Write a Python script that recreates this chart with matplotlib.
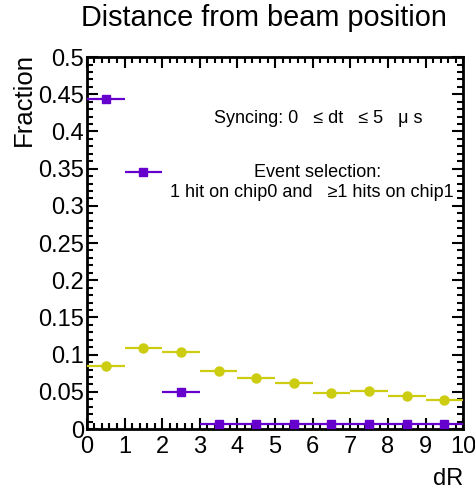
import matplotlib
matplotlib.use("Agg")
import matplotlib.pyplot as plt
from matplotlib.ticker import MultipleLocator, FixedLocator
import numpy as np

plt.rcParams['font.family'] = ['Liberation Sans', 'DejaVu Sans']

# Histogram binning (dR)
bin_edges = [0, 1, 2, 3, 4, 5, 6, 7, 8, 9, 10]

# Fraction of events per bin
frac_single = [0.444, 0.346, 0.050, 0.007, 0.007, 0.007, 0.007, 0.007, 0.007, 0.007]
frac_multi = [0.085, 0.109, 0.103, 0.078, 0.068, 0.062, 0.048, 0.051, 0.045, 0.039]

purple = "#6600cc"
yellow = "#cccc10"

x_ticks = [0, 1, 2, 3, 4, 5, 6, 7, 8, 9, 10]
y_ticks = [0, 0.05, 0.1, 0.15, 0.2, 0.25, 0.3, 0.35, 0.4, 0.45, 0.5]
y_labels = ["0", "0.05", "0.1", "0.15", "0.2", "0.25", "0.3", "0.35", "0.4", "0.45", "0.5"]

fig = plt.figure(figsize=(4.75, 4.92), dpi=100)
ax = fig.add_axes([0.183, 0.128, 0.792, 0.756])

edges = np.array(bin_edges, dtype=float)
centers = 0.5 * (edges[:-1] + edges[1:])
half = 0.5 * (edges[1:] - edges[:-1])

ax.errorbar(centers, frac_multi, xerr=half, fmt='o', color=yellow, ms=6.5,
            elinewidth=1.6, capsize=0, zorder=3, clip_on=False)
ax.errorbar(centers, frac_single, xerr=half, fmt='s', color=purple, ms=6,
            elinewidth=1.6, capsize=0, zorder=4, clip_on=False)

ax.set_xlim(0, 10)
ax.set_ylim(0, 0.5)
ax.xaxis.set_major_locator(FixedLocator(x_ticks))
ax.xaxis.set_minor_locator(MultipleLocator(0.2))
ax.yaxis.set_major_locator(FixedLocator(y_ticks))
ax.yaxis.set_minor_locator(MultipleLocator(0.01))
ax.set_yticklabels(y_labels)

ax.tick_params(which='both', direction='in', top=True, right=True,
               labelsize=17, width=1.5, color='black')
ax.tick_params(which='major', length=8)
ax.tick_params(axis='y', which='major', pad=2)
ax.tick_params(axis='x', which='major', pad=5)
ax.tick_params(which='minor', length=4)
for s in ax.spines.values():
    s.set_linewidth(2)

ax.set_ylabel("Fraction", fontsize=18.5, loc='top')
ax.yaxis.set_label_coords(-0.135, 1.01)
ax.set_xlabel("dR", fontsize=17, loc='right', labelpad=7)

fig.text(0.556, 0.963, "Distance from beam position", fontsize=20.8,
         ha='center', va='center')

ax.text(6.14, 0.418, "Syncing: 0   \u2264 dt   \u2264 5   \u03bc s", fontsize=13,
        ha='center', va='center')
ax.text(6.14, 0.345, "Event selection:", fontsize=13, ha='center', va='center')
ax.text(5.98, 0.3185, "1 hit on chip0 and   \u22651 hits on chip1", fontsize=13,
        ha='center', va='center')

fig.savefig("out.png", dpi=100)
